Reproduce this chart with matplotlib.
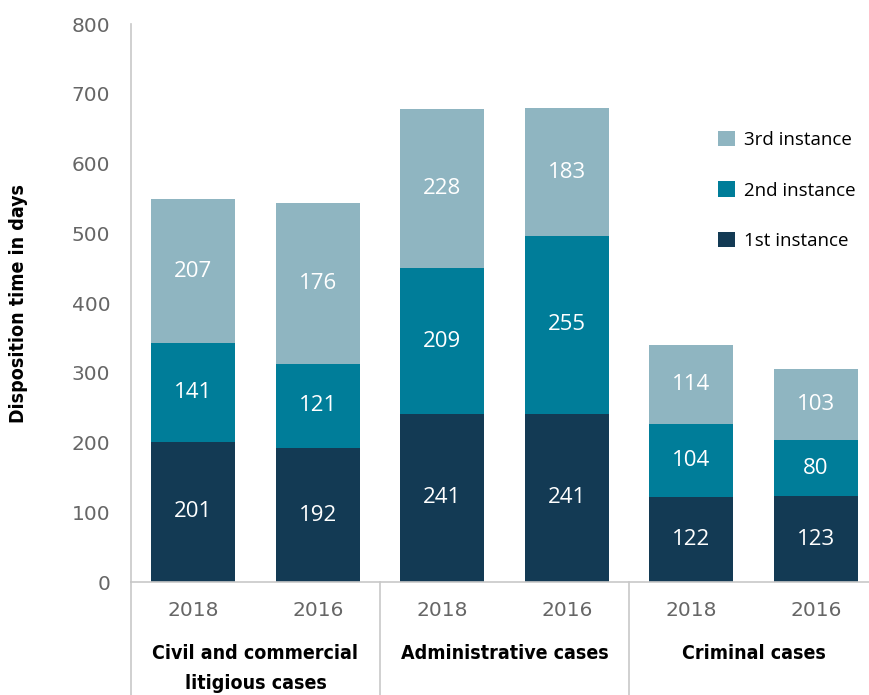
import matplotlib.pyplot as plt
from matplotlib.transforms import blended_transform_factory

# Data
years = ['2018', '2016', '2018', '2016', '2018', '2016']
groups = ['Civil and commercial\nlitigious cases', 'Administrative cases', 'Criminal cases']
first = [201, 192, 241, 241, 122, 123]
second = [141, 121, 209, 255, 104, 80]
# drawn heights of the 3rd-instance segments (civil 2016 drawn taller than its label)
third = [207, 230, 228, 183, 114, 103]
third_labels = ['207', '176', '228', '183', '114', '103']
series_names = ['1st instance', '2nd instance', '3rd instance']
colors = ['#133A54', '#007D99', '#8FB5C1']

fig = plt.figure(figsize=(8.7, 6.95), dpi=100)
ax = fig.add_axes([131 / 870, 113 / 695, 739 / 870, 558 / 695])

x = list(range(len(years)))
width = 0.675
bottom2 = [a for a in first]
bottom3 = [a + b for a, b in zip(first, second)]

b1 = ax.bar(x, first, width, color=colors[0], label=series_names[0])
b2 = ax.bar(x, second, width, bottom=bottom2, color=colors[1], label=series_names[1])
b3 = ax.bar(x, third, width, bottom=bottom3, color=colors[2], label=series_names[2])

valfont = dict(color='white', fontsize=16, family=['Open Sans', 'DejaVu Sans'],
               ha='center', va='center')
for i in x:
    ax.text(i, first[i] / 2, str(first[i]), **valfont)
    ax.text(i, bottom2[i] + second[i] / 2, str(second[i]), **valfont)
    ax.text(i, bottom3[i] + third[i] / 2, third_labels[i], **valfont)

ax.set_xlim(-0.5, -0.5 + 739 / 124.5)
ax.set_ylim(0, 800)
ax.set_yticks(range(0, 801, 100))
ax.tick_params(axis='y', length=0, pad=15, labelsize=14.5, labelcolor='#666666')
for lab in ax.get_yticklabels():
    lab.set_family('DejaVu Sans')
ax.set_xticks([])

for s in ['top', 'right']:
    ax.spines[s].set_visible(False)
for s in ['left', 'bottom']:
    ax.spines[s].set_color('#c8c8c8')
    ax.spines[s].set_linewidth(1.2)

# y axis title
ax.text(-113 / 739, 0.5, 'Disposition time in days', transform=ax.transAxes,
        rotation=90, ha='center', va='center', fontsize=14, fontweight='bold',
        family='DejaVu Sans', fontstretch='condensed')

# category axis below the plot
trans = blended_transform_factory(ax.transData, ax.transAxes)
for xs in [-0.5, 1.5, 3.5]:
    ax.plot([xs, xs], [0, -0.25], transform=trans, color='#c8c8c8', lw=1.2, clip_on=False)
for i in x:
    ax.text(i, -29 / 558, years[i], transform=trans, ha='center', va='center',
            fontsize=14.5, color='#666666', family='DejaVu Sans')
for g, name in enumerate(groups):
    ax.text(2 * g + 0.5, -62 / 558, name, transform=trans, ha='center', va='top',
            fontsize=14, fontweight='bold', linespacing=1.75,
            family='DejaVu Sans', fontstretch='condensed')

handles = [b3, b2, b1]
ax.legend(handles, [series_names[2], series_names[1], series_names[0]],
          loc='upper left', bbox_to_anchor=(570 / 739, 468 / 558), frameon=False,
          handlelength=0.9, handleheight=0.9, handletextpad=0.5, labelspacing=1.72,
          prop={'family': ['Open Sans', 'DejaVu Sans'], 'size': 13.5})

fig.savefig('out.png', dpi=100)
